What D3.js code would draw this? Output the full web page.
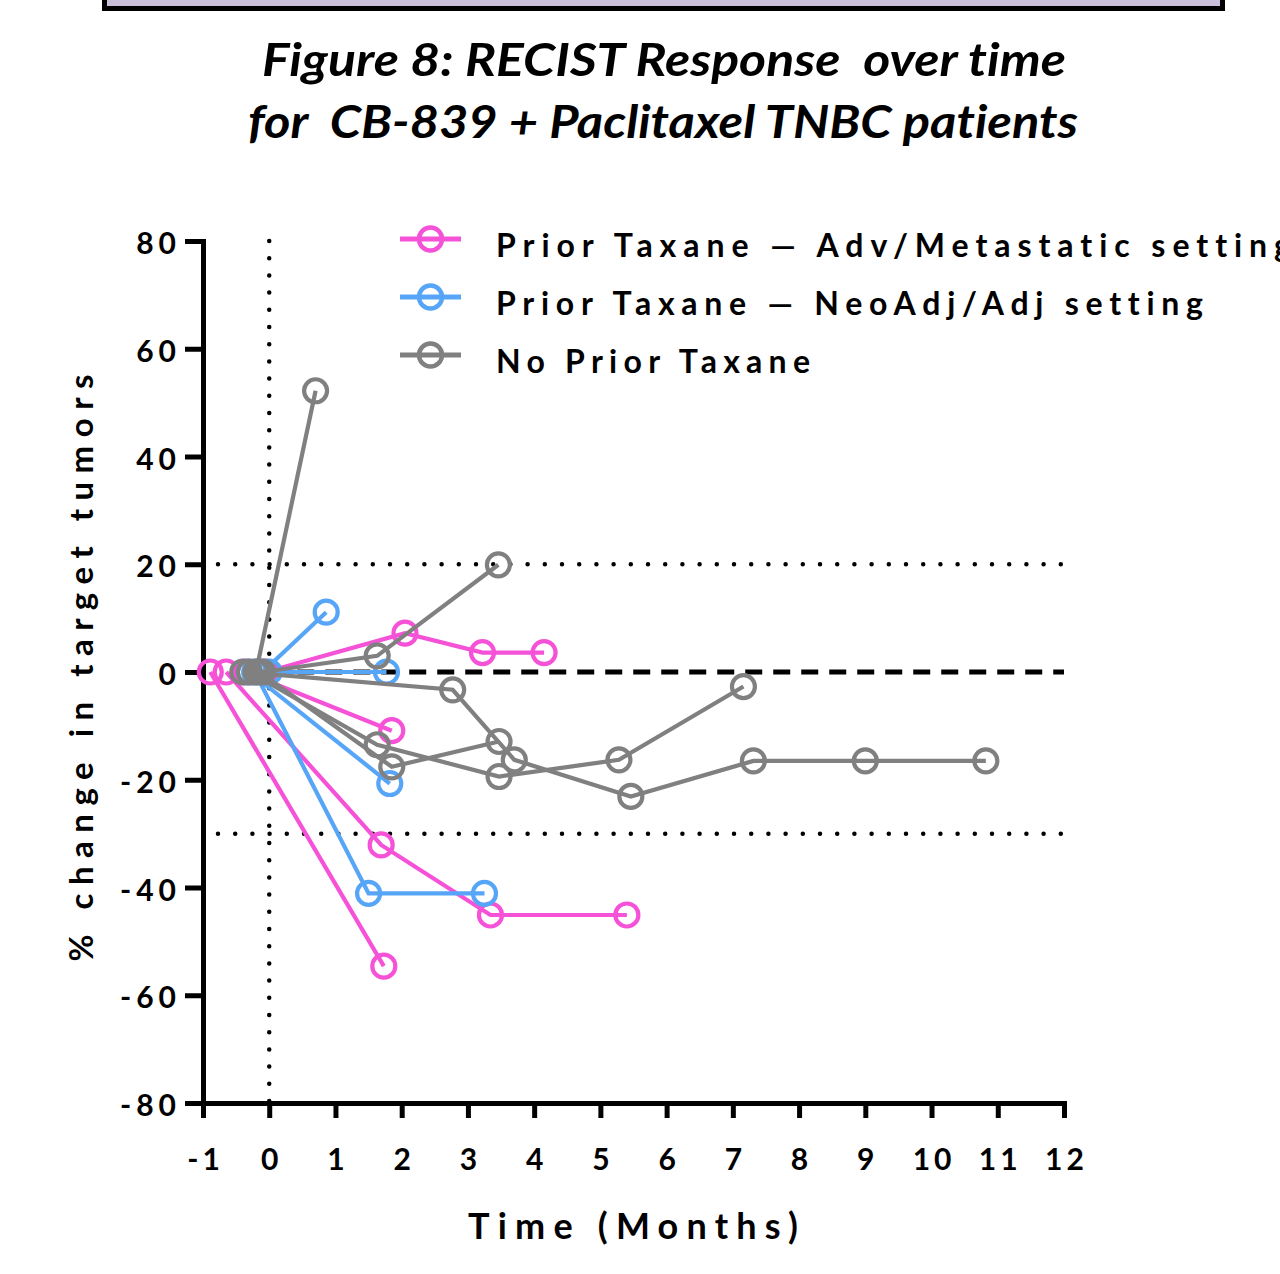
<!DOCTYPE html>
<html>
<head>
<meta charset="utf-8">
<script src="https://cdn.jsdelivr.net/npm/d3@7"></script>
<style>
  body { margin: 0; background: #fff; }
  svg { display: block; }
  text { font-family: Lato, "Open Sans", sans-serif; font-weight: 700; fill: #000;
         font-variant-ligatures: none; white-space: pre; }
</style>
</head>
<body>
<svg id="chart" width="1280" height="1274"></svg>
<script>
// months from start vs % change in target tumors, one array per patient
const advSeries = [
  [[-0.05, 0], [2.05, 7.2], [3.22, 3.6], [4.15, 3.6]],
  [[-0.36, 0], [1.85, -10.9]],
  [[-0.65, 0], [1.69, -32.1], [3.34, -45.1], [5.40, -45.1]],
  [[-0.89, 0], [1.73, -54.6]]
];
const neoSeries = [
  [[-0.1, 0], [0.86, 11.1]],
  [[0.0, 0], [1.77, 0]],
  [[-0.3, 0], [1.82, -20.7]],
  [[-0.22, 0], [1.5, -41.1], [3.25, -41.1]]
];
const noneSeries = [
  [[-0.2, 0], [0.7, 52.2]],
  [[-0.1, 0], [1.63, 3], [3.46, 19.9]],
  [[-0.4, 0], [2.77, -3.3], [3.70, -16.3], [5.46, -23.1], [7.31, -16.5], [9.0, -16.5], [10.82, -16.5]],
  [[-0.3, 0], [1.63, -13.5], [3.47, -19.4], [5.28, -16.3], [7.16, -2.7]],
  [[-0.15, 0], [1.85, -17.6], [3.47, -12.9]]
];

const groupNames = [
  "Prior Taxane \u2014 Adv/Metastatic setting",
  "Prior Taxane \u2014 NeoAdj/Adj setting",
  "No Prior Taxane"
];
const groupColors = ["#f552d8", "#57a5f7", "#808080"];

const xTicks = d3.range(-1, 13);
const yTicks = d3.range(-80, 81, 20);
const cutoffLines = [20, -30];   // progression / response thresholds

const svg = d3.select("#chart");

// banner box cut by the top edge
svg.append("rect")
  .attr("x", 104.5).attr("y", -20)
  .attr("width", 1118).attr("height", 28.5)
  .attr("fill", "#cbc0dc")
  .attr("stroke", "#000")
  .attr("stroke-width", 5);

// title
svg.append("text")
  .attr("x", 664).attr("y", 76)
  .attr("text-anchor", "middle")
  .attr("font-size", 45).attr("font-style", "italic")
  .attr("textLength", 804).attr("lengthAdjust", "spacingAndGlyphs")
  .text("Figure 8: RECIST Response  over time");
svg.append("text")
  .attr("x", 663).attr("y", 138)
  .attr("text-anchor", "middle")
  .attr("font-size", 45).attr("font-style", "italic")
  .attr("textLength", 830).attr("lengthAdjust", "spacingAndGlyphs")
  .text("for  CB-839 + Paclitaxel TNBC patients");

const x = d3.scaleLinear().domain([-1, 12]).range([203, 1064]);
const y = d3.scaleLinear().domain([-80, 80]).range([1103, 241]);

// reference lines
svg.append("line")
  .attr("x1", x(0)).attr("x2", x(0))
  .attr("y1", y(80)).attr("y2", y(-80))
  .attr("stroke", "#000").attr("stroke-width", 4.5)
  .attr("stroke-linecap", "round")
  .attr("stroke-dasharray", "0 17.2");

svg.selectAll(".cutoff").data(cutoffLines)
  .join("line")
  .attr("class", "cutoff")
  .attr("x1", 218).attr("x2", x(12))
  .attr("y1", d => y(d)).attr("y2", d => y(d))
  .attr("stroke", "#000").attr("stroke-width", 4.5)
  .attr("stroke-linecap", "round")
  .attr("stroke-dasharray", "0 17.2");

svg.append("line")
  .attr("x1", x(0)).attr("x2", x(12))
  .attr("y1", y(0)).attr("y2", y(0))
  .attr("stroke", "#000").attr("stroke-width", 5)
  .attr("stroke-dasharray", "17 11");

// axes
const fmt = d => String(d);   // plain hyphen for negatives
const yAxis = svg.append("g")
  .attr("transform", `translate(${x(-1)},0)`)
  .call(d3.axisLeft(y).tickValues(yTicks).tickFormat(fmt).tickSize(18).tickSizeOuter(0).tickPadding(4));
const xAxis = svg.append("g")
  .attr("transform", `translate(0,${y(-80)})`)
  .call(d3.axisBottom(x).tickValues(xTicks).tickFormat(fmt).tickSize(15).tickSizeOuter(0).tickPadding(46));

[yAxis, xAxis].forEach(g => {
  g.select(".domain").attr("stroke", "#000").attr("stroke-width", 5).attr("stroke-linecap", "square");
  g.selectAll(".tick line").attr("stroke", "#000").attr("stroke-width", 5);
  g.selectAll(".tick text")
    .attr("font-family", "Lato, 'Open Sans', sans-serif")
    .attr("font-weight", 700)
    .attr("fill", "#000");
});
yAxis.selectAll(".tick text")
  .attr("font-size", 30)
  .attr("letter-spacing", "5px")
  .attr("dy", "0.42em");
xAxis.selectAll(".tick text")
  .attr("font-size", 30)
  .attr("letter-spacing", "4px")
  .attr("dx", "2px")
  .attr("dy", "0.2em");

// axis titles
svg.append("text")
  .attr("transform", "translate(93,668) rotate(-90)")
  .attr("text-anchor", "middle")
  .attr("font-size", 33)
  .attr("textLength", 587).attr("lengthAdjust", "spacing")
  .text("% change in target tumors");
svg.append("text")
  .attr("x", 633).attr("y", 1239)
  .attr("text-anchor", "middle")
  .attr("font-size", 36)
  .attr("textLength", 330).attr("lengthAdjust", "spacing")
  .text("Time (Months)");

// data
const line = d3.line().x(d => x(d[0])).y(d => y(d[1]));
const groups = [advSeries, neoSeries, noneSeries];
const plot = svg.append("g");

groups.forEach((series, gi) => {
  const g = plot.append("g");
  g.selectAll("path").data(series)
    .join("path")
    .attr("d", line)
    .attr("fill", "none")
    .attr("stroke", groupColors[gi])
    .attr("stroke-width", 4.2);
  g.selectAll("circle").data(series.flat())
    .join("circle")
    .attr("cx", d => x(d[0]))
    .attr("cy", d => y(d[1]))
    .attr("r", 11.5)
    .attr("fill", "none")
    .attr("stroke", groupColors[gi])
    .attr("stroke-width", 4.2);
});

// legend
const legendY = [239, 297, 355];
const legendLen = [795, 707, 314];
const legend = svg.append("g");
groupNames.forEach((name, i) => {
  const row = legend.append("g").attr("transform", `translate(0,${legendY[i]})`);
  row.append("line")
    .attr("x1", 400).attr("x2", 461)
    .attr("stroke", groupColors[i]).attr("stroke-width", 5);
  row.append("circle")
    .attr("cx", 430.5).attr("r", 11.5)
    .attr("fill", "none")
    .attr("stroke", groupColors[i]).attr("stroke-width", 4.5);
  row.append("text")
    .attr("x", 496).attr("y", 18)
    .attr("font-size", 32)
    .attr("textLength", legendLen[i]).attr("lengthAdjust", "spacing")
    .text(name);
});
</script>
</body>
</html>
